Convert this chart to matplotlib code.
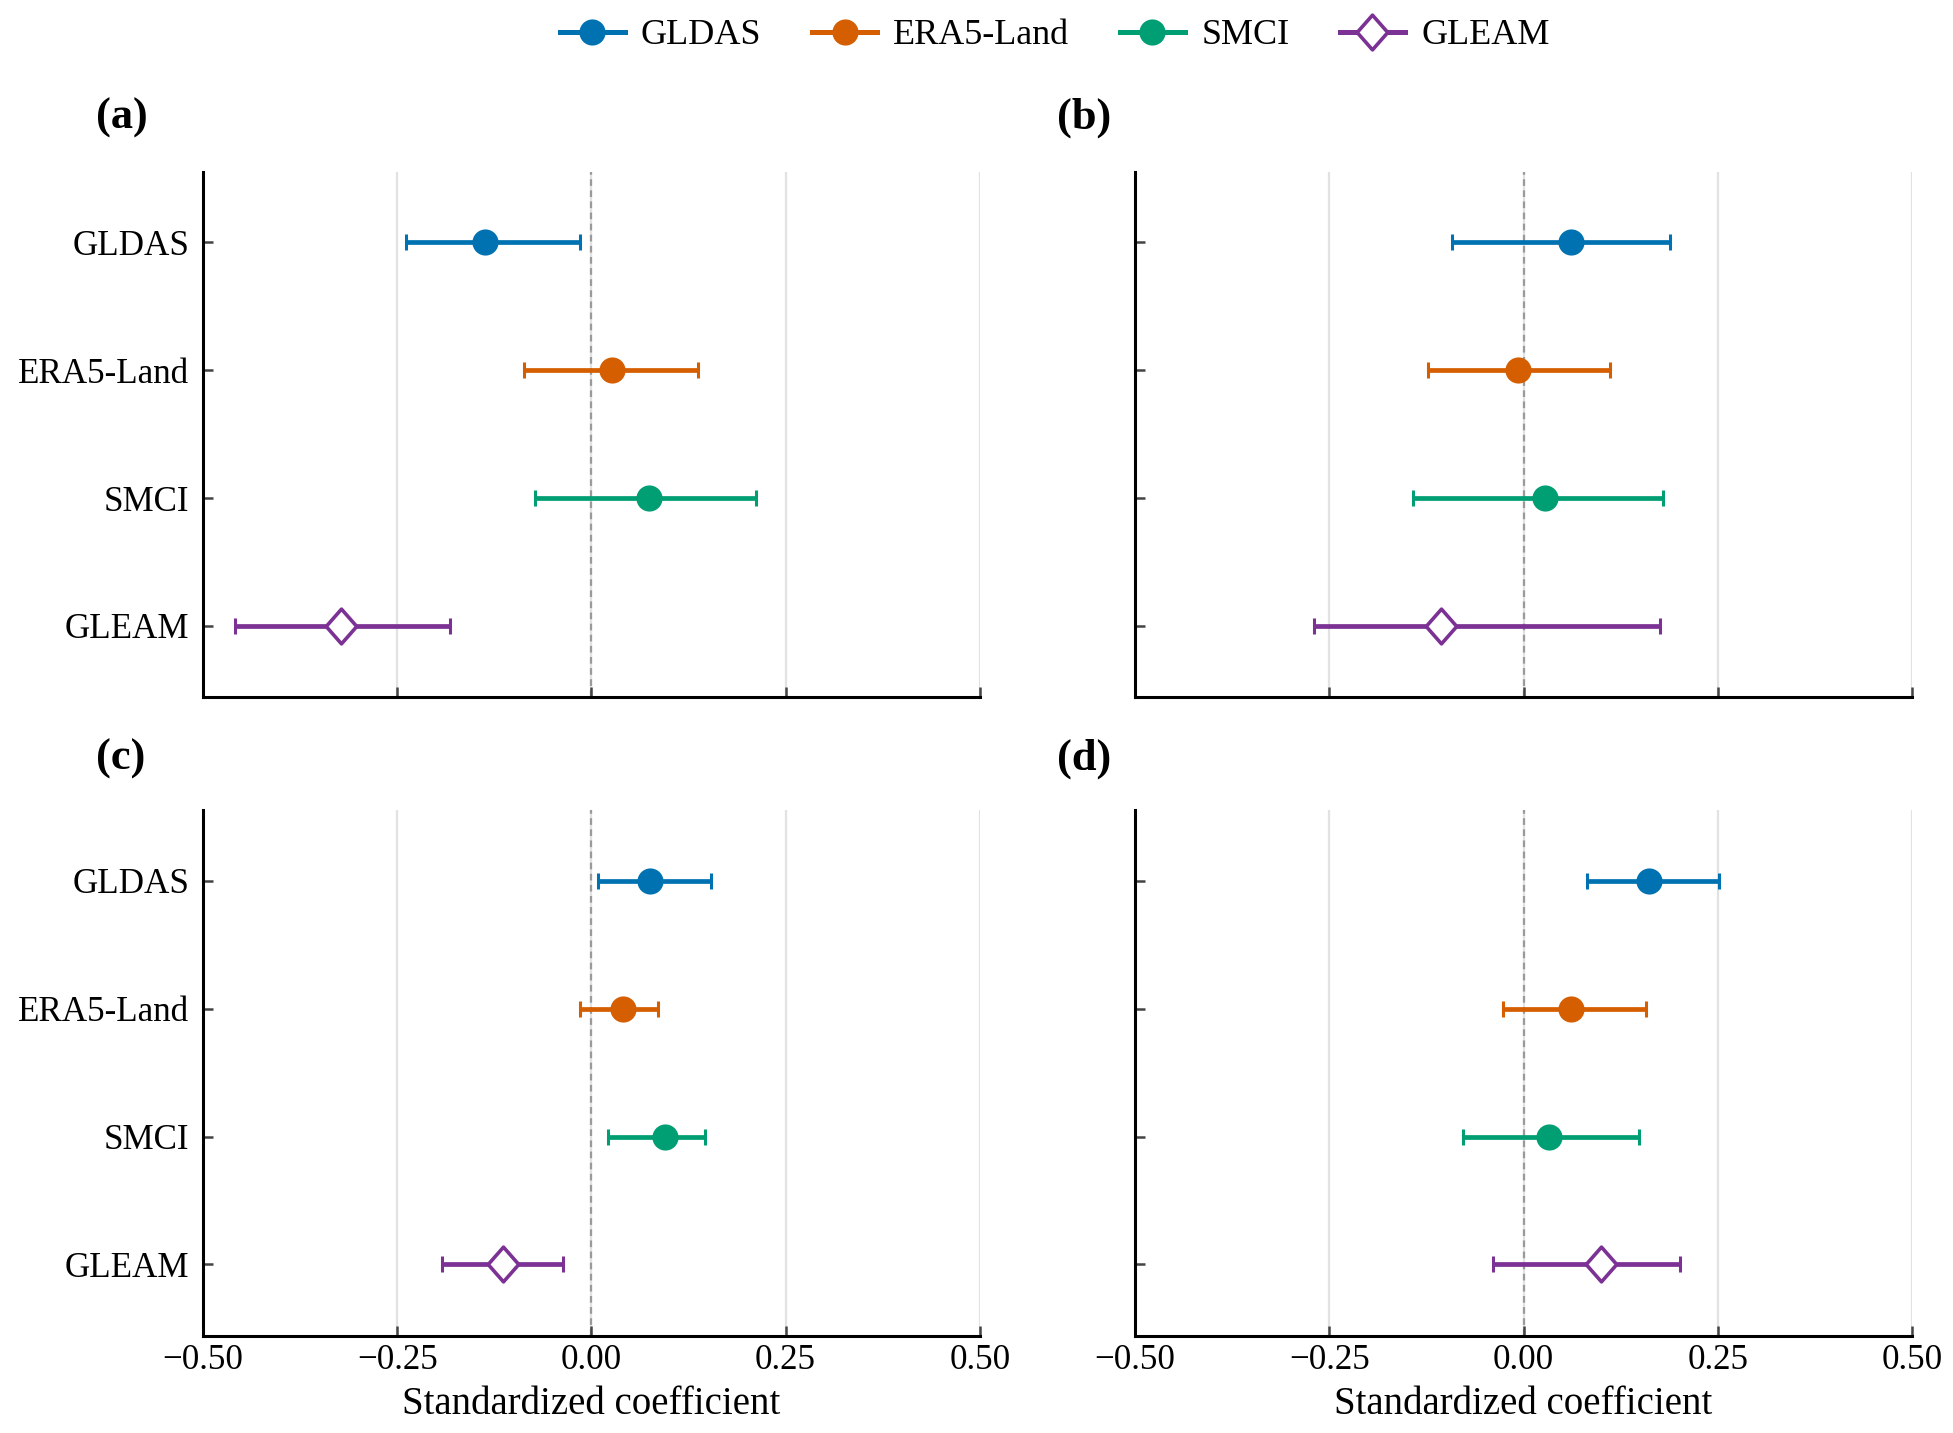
import matplotlib
matplotlib.use("Agg")
import matplotlib.pyplot as plt
from matplotlib.lines import Line2D
from matplotlib.path import Path
from matplotlib.ticker import FuncFormatter

plt.rcParams["font.family"] = ["Liberation Serif", "DejaVu Serif"]
plt.rcParams["font.size"] = 12.6

datasets = ["GLDAS", "ERA5-Land", "SMCI", "GLEAM"]
colors = ["#0072B2", "#D55E00", "#009E73", "#7B3294"]
panel_labels = ["(a)", "(b)", "(c)", "(d)"]

# point estimate and 95% interval for each panel, in dataset order
coef_a = [-0.137, 0.027, 0.074, -0.322]
low_a = [-0.239, -0.087, -0.072, -0.459]
high_a = [-0.014, 0.137, 0.212, -0.182]

coef_b = [0.061, -0.007, 0.027, -0.106]
low_b = [-0.092, -0.123, -0.142, -0.270]
high_b = [0.189, 0.111, 0.180, 0.176]

coef_c = [0.076, 0.041, 0.095, -0.114]
low_c = [0.009, -0.014, 0.022, -0.192]
high_c = [0.154, 0.086, 0.146, -0.037]

coef_d = [0.161, 0.061, 0.033, 0.100]
low_d = [0.082, -0.027, -0.078, -0.039]
high_d = [0.251, 0.158, 0.148, 0.202]

panels = [(coef_a, low_a, high_a), (coef_b, low_b, high_b),
          (coef_c, low_c, high_c), (coef_d, low_d, high_d)]
xticks = [-0.50, -0.25, 0.00, 0.25, 0.50]

diamond = Path([(0, 1), (0.88, 0), (0, -1), (-0.88, 0), (0, 1)],
               [Path.MOVETO, Path.LINETO, Path.LINETO, Path.LINETO, Path.CLOSEPOLY])


def style_for(i):
    if datasets[i] == "GLEAM":
        return dict(marker=diamond, ms=12.5, mfc="white", mec=colors[i], mew=1.3)
    return dict(marker="o", ms=9.4, mfc=colors[i], mec=colors[i], mew=0.01)


def fmt_tick(x, pos):
    return f"{x:.2f}".replace("-", "\u2212")


fig, axes = plt.subplots(2, 2, figsize=(9.765, 7.165), dpi=200, sharex=True, sharey=True)
fig.subplots_adjust(left=0.1039, right=0.979, top=0.880, bottom=0.0677,
                    wspace=0.2, hspace=0.215)

for k, ax in enumerate(axes.flat):
    coef, low, high = panels[k]
    for t in xticks:
        ax.axvline(t, color="#e2e2e2", lw=0.8, zorder=0)
    ax.axvline(0, color="#9a9a9a", lw=0.8, ls=(0, (3, 2)), zorder=1)
    for i in range(len(datasets)):
        ax.errorbar(coef[i], i, xerr=[[coef[i] - low[i]], [high[i] - coef[i]]],
                    fmt="none", ecolor=colors[i], elinewidth=1.7, capsize=3,
                    capthick=1.1, zorder=3)
        ax.plot(coef[i], i, ls="none", zorder=4, **style_for(i))
    ax.set_xlim(-0.5, 0.5)
    ax.set_ylim(3.56, -0.55)
    ax.set_xticks(xticks)
    ax.set_yticks(range(len(datasets)))
    ax.set_yticklabels(datasets)
    ax.spines["top"].set_visible(False)
    ax.spines["right"].set_visible(False)
    ax.spines["left"].set_linewidth(1.1)
    ax.spines["bottom"].set_linewidth(1.1)
    ax.tick_params(direction="in", length=3.6, width=0.9, color="#444444")
    ax.tick_params(axis="x", pad=3)
    ax.tick_params(axis="y", pad=5)
    ax.tick_params(labelleft=(k % 2 == 0), labelbottom=(k >= 2))
    if k >= 2:
        ax.set_xlabel("Standardized coefficient", fontsize=14, labelpad=3)
    ax.xaxis.set_major_formatter(FuncFormatter(fmt_tick))

label_pos = [(0.0492, 0.9177), (0.5412, 0.9177), (0.0492, 0.4703), (0.5412, 0.4703)]
for lab, (x, y) in zip(panel_labels, label_pos):
    fig.text(x, y, lab, fontsize=16, fontweight="bold", ha="left", va="center")

handles = [Line2D([], [], color=colors[i], lw=1.8, **style_for(i)) for i in range(len(datasets))]
fig.legend(handles, datasets, loc="center", bbox_to_anchor=(0.54, 0.975), ncol=4,
           frameon=False, fontsize=13.0, handlelength=1.8, handletextpad=0.45,
           columnspacing=1.4)

fig.savefig("out.png", dpi=200)
